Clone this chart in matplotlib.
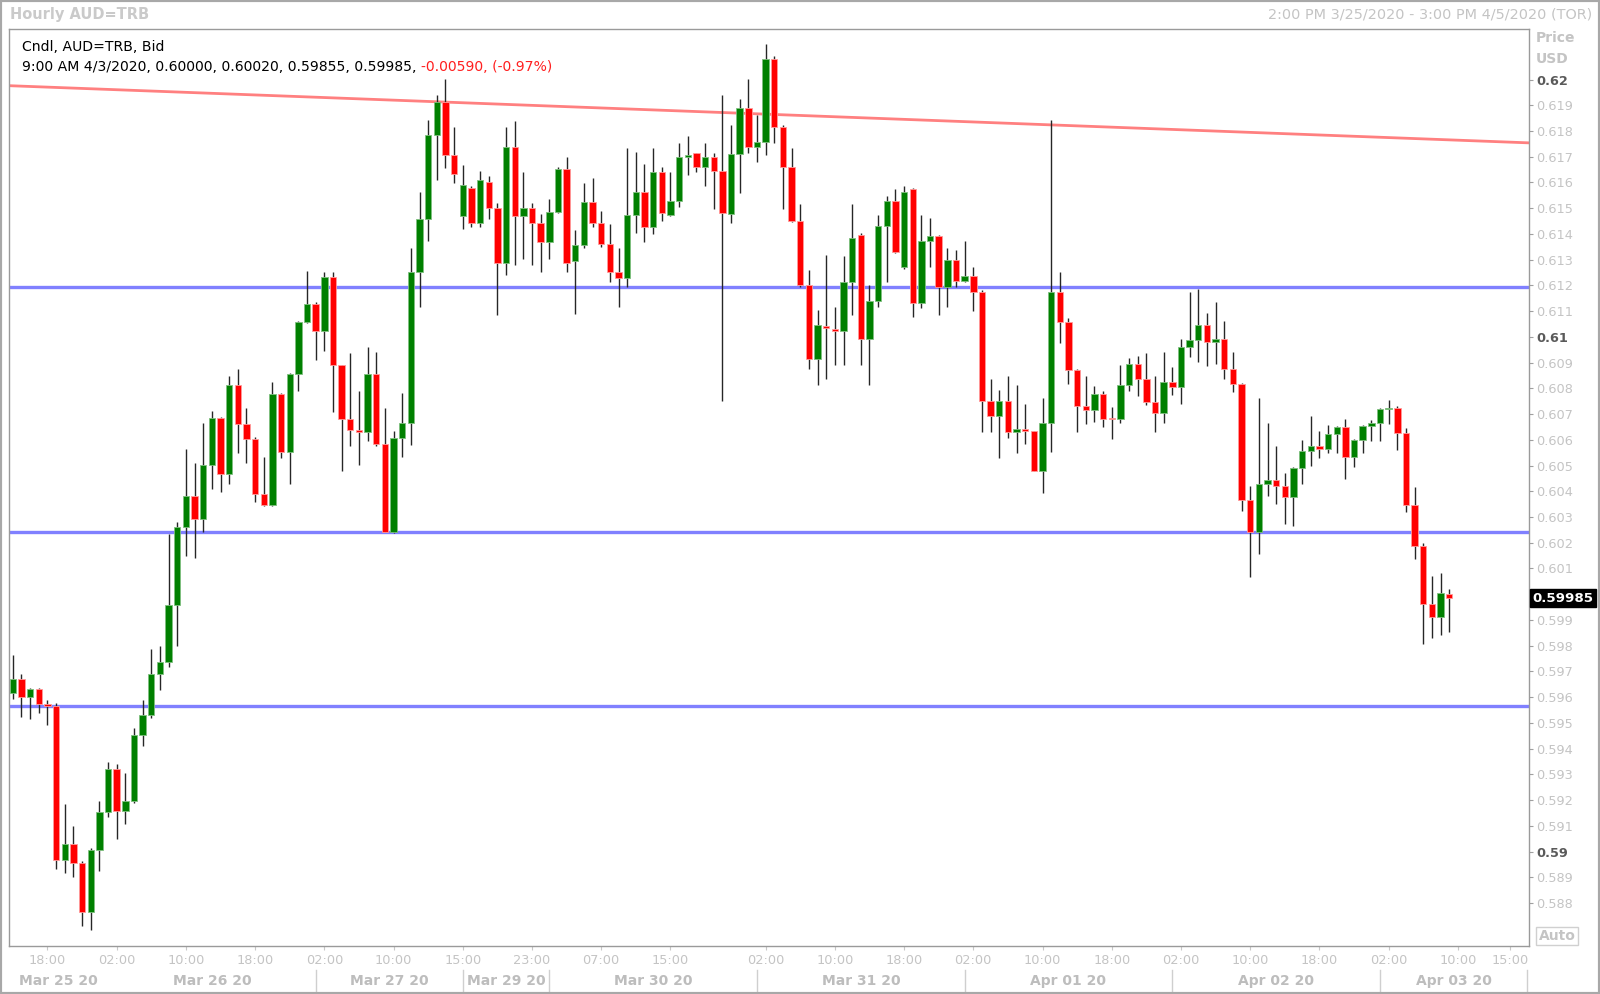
import matplotlib
matplotlib.use("Agg")
import matplotlib.pyplot as plt
from matplotlib.patches import Rectangle
import matplotlib.transforms as mtransforms

# ==================================================
# DATA: hourly AUD=TRB candles
# ==================================================

opens = [
    0.59617, 0.59670, 0.59601, 0.59630, 0.59573, 0.59565, 0.58967, 0.59028, 0.58955, 0.58766,
    0.59007, 0.59154, 0.59319, 0.59158, 0.59195, 0.59453, 0.59530, 0.59690, 0.59735, 0.59960,
    0.60260, 0.60381, 0.60293, 0.60502, 0.60685, 0.60468, 0.60812, 0.60660, 0.60604, 0.60390,
    0.60348, 0.60778, 0.60554, 0.60855, 0.61058, 0.61128, 0.61023, 0.61233, 0.60889, 0.60682,
    0.60638, 0.60630, 0.60855, 0.60582, 0.60243, 0.60607, 0.60666, 0.61251, 0.61458, 0.61784,
    0.61911, 0.61707, 0.61471, 0.61580, 0.61441, 0.61600, 0.61501, 0.61288, 0.61739, 0.61471,
    0.61500, 0.61441, 0.61369, 0.61486, 0.61653, 0.61296, 0.61358, 0.61524, 0.61441, 0.61361,
    0.61254, 0.61227, 0.61473, 0.61562, 0.61428, 0.61642, 0.61475, 0.61528, 0.61698, 0.61713,
    0.61659, 0.61700, 0.61646, 0.61478, 0.61709, 0.61888, 0.61739, 0.61758, 0.62080, 0.61814,
    0.61659, 0.61450, 0.61201, 0.60915, 0.61043, 0.61031, 0.61024, 0.61214, 0.61396, 0.60991,
    0.61139, 0.61432, 0.61529, 0.61270, 0.61574, 0.61130, 0.61374, 0.61392, 0.61195, 0.61299,
    0.61218, 0.61237, 0.61176, 0.60752, 0.60694, 0.60752, 0.60630, 0.60643, 0.60634, 0.60479,
    0.60664, 0.61173, 0.61057, 0.60871, 0.60732, 0.60716, 0.60778, 0.60686, 0.60679, 0.60814,
    0.60894, 0.60836, 0.60748, 0.60705, 0.60826, 0.60804, 0.60962, 0.60987, 0.61048, 0.60979,
    0.60992, 0.60875, 0.60815, 0.60365, 0.60242, 0.60427, 0.60443, 0.60420, 0.60379, 0.60491,
    0.60556, 0.60576, 0.60564, 0.60623, 0.60651, 0.60534, 0.60599, 0.60654, 0.60666, 0.60718,
    0.60725, 0.60625, 0.60345, 0.60188, 0.59962, 0.59912, 0.60000,
]
highs = [
    0.59764, 0.59690, 0.59634, 0.59634, 0.59589, 0.59578, 0.59185, 0.59098, 0.58963, 0.59012,
    0.59195, 0.59349, 0.59340, 0.59306, 0.59479, 0.59589, 0.59786, 0.59798, 0.60235, 0.60282,
    0.60563, 0.60511, 0.60664, 0.60711, 0.60690, 0.60848, 0.60875, 0.60722, 0.60610, 0.60533,
    0.60824, 0.60781, 0.60860, 0.61061, 0.61257, 0.61134, 0.61251, 0.61251, 0.60890, 0.60936,
    0.60789, 0.60959, 0.60940, 0.60722, 0.60634, 0.60781, 0.61346, 0.61562, 0.61843, 0.61940,
    0.62001, 0.61817, 0.61668, 0.61585, 0.61644, 0.61625, 0.61519, 0.61814, 0.61839, 0.61639,
    0.61519, 0.61477, 0.61537, 0.61660, 0.61698, 0.61414, 0.61598, 0.61618, 0.61490, 0.61438,
    0.61344, 0.61733, 0.61717, 0.61670, 0.61733, 0.61659, 0.61642, 0.61754, 0.61780, 0.61715,
    0.61754, 0.61713, 0.61940, 0.61823, 0.61923, 0.62001, 0.61862, 0.62138, 0.62093, 0.61823,
    0.61733, 0.61516, 0.61258, 0.61104, 0.61318, 0.61115, 0.61315, 0.61515, 0.61404, 0.61202,
    0.61473, 0.61547, 0.61573, 0.61586, 0.61577, 0.61473, 0.61463, 0.61395, 0.61344, 0.61337,
    0.61374, 0.61272, 0.61182, 0.60836, 0.60792, 0.60848, 0.60814, 0.60738, 0.60636, 0.60764,
    0.61843, 0.61251, 0.61072, 0.60874, 0.60848, 0.60810, 0.60788, 0.60726, 0.60891, 0.60917,
    0.60926, 0.60936, 0.60848, 0.60940, 0.60882, 0.60992, 0.61174, 0.61186, 0.61094, 0.61136,
    0.61063, 0.60942, 0.60822, 0.60422, 0.60764, 0.60666, 0.60577, 0.60470, 0.60495, 0.60599,
    0.60692, 0.60634, 0.60656, 0.60655, 0.60681, 0.60604, 0.60658, 0.60676, 0.60722, 0.60754,
    0.60732, 0.60647, 0.60415, 0.60198, 0.60071, 0.60083, 0.60020,
]
lows = [
    0.59591, 0.59521, 0.59514, 0.59537, 0.59492, 0.58933, 0.58918, 0.58900, 0.58711, 0.58695,
    0.58925, 0.59135, 0.59050, 0.59106, 0.59190, 0.59411, 0.59518, 0.59628, 0.59718, 0.59798,
    0.60150, 0.60140, 0.60243, 0.60408, 0.60396, 0.60427, 0.60550, 0.60511, 0.60357, 0.60342,
    0.60342, 0.60530, 0.60427, 0.60789, 0.61055, 0.60909, 0.60945, 0.60708, 0.60478, 0.60575,
    0.60504, 0.60596, 0.60576, 0.60243, 0.60237, 0.60534, 0.60578, 0.61115, 0.61374, 0.61610,
    0.61655, 0.61599, 0.61418, 0.61428, 0.61428, 0.61459, 0.61084, 0.61242, 0.61280, 0.61304,
    0.61280, 0.61254, 0.61304, 0.61480, 0.61251, 0.61088, 0.61344, 0.61426, 0.61350, 0.61214,
    0.61115, 0.61195, 0.61402, 0.61370, 0.61399, 0.61451, 0.61470, 0.61503, 0.61628, 0.61639,
    0.61587, 0.61496, 0.60752, 0.61441, 0.61558, 0.61713, 0.61681, 0.61707, 0.61754, 0.61496,
    0.61445, 0.61195, 0.60874, 0.60814, 0.60836, 0.60889, 0.60890, 0.61084, 0.60889, 0.60814,
    0.61117, 0.61213, 0.61325, 0.61263, 0.61078, 0.61112, 0.61272, 0.61084, 0.61115, 0.61195,
    0.61215, 0.61101, 0.60630, 0.60630, 0.60530, 0.60606, 0.60549, 0.60582, 0.60477, 0.60392,
    0.60554, 0.60975, 0.60815, 0.60629, 0.60660, 0.60668, 0.60651, 0.60603, 0.60664, 0.60791,
    0.60769, 0.60735, 0.60629, 0.60664, 0.60774, 0.60738, 0.60923, 0.60903, 0.60888, 0.60893,
    0.60836, 0.60784, 0.60324, 0.60068, 0.60157, 0.60382, 0.60351, 0.60272, 0.60266, 0.60427,
    0.60500, 0.60531, 0.60550, 0.60550, 0.60449, 0.60495, 0.60550, 0.60596, 0.60596, 0.60660,
    0.60560, 0.60318, 0.60135, 0.59805, 0.59828, 0.59841, 0.59855,
]
closes = [
    0.59670, 0.59601, 0.59630, 0.59573, 0.59565, 0.58967, 0.59028, 0.58955, 0.58766, 0.59007,
    0.59154, 0.59319, 0.59158, 0.59195, 0.59453, 0.59530, 0.59690, 0.59735, 0.59960, 0.60260,
    0.60381, 0.60293, 0.60502, 0.60685, 0.60468, 0.60812, 0.60660, 0.60604, 0.60390, 0.60348,
    0.60778, 0.60554, 0.60855, 0.61058, 0.61128, 0.61023, 0.61233, 0.60889, 0.60682, 0.60638,
    0.60630, 0.60855, 0.60582, 0.60243, 0.60607, 0.60666, 0.61251, 0.61458, 0.61784, 0.61911,
    0.61707, 0.61632, 0.61590, 0.61441, 0.61610, 0.61501, 0.61288, 0.61739, 0.61471, 0.61500,
    0.61441, 0.61369, 0.61486, 0.61653, 0.61288, 0.61358, 0.61524, 0.61441, 0.61361, 0.61254,
    0.61227, 0.61473, 0.61562, 0.61428, 0.61642, 0.61482, 0.61528, 0.61698, 0.61703, 0.61659,
    0.61700, 0.61646, 0.61482, 0.61709, 0.61888, 0.61739, 0.61758, 0.62080, 0.61814, 0.61659,
    0.61450, 0.61201, 0.60915, 0.61048, 0.61035, 0.61024, 0.61214, 0.61383, 0.60991, 0.61139,
    0.61432, 0.61529, 0.61328, 0.61562, 0.61130, 0.61374, 0.61392, 0.61195, 0.61299, 0.61218,
    0.61237, 0.61176, 0.60752, 0.60694, 0.60752, 0.60630, 0.60643, 0.60634, 0.60479, 0.60664,
    0.61173, 0.61057, 0.60871, 0.60732, 0.60716, 0.60778, 0.60681, 0.60679, 0.60814, 0.60894,
    0.60836, 0.60748, 0.60705, 0.60826, 0.60804, 0.60962, 0.60987, 0.61048, 0.60979, 0.60992,
    0.60875, 0.60815, 0.60365, 0.60242, 0.60427, 0.60443, 0.60420, 0.60379, 0.60491, 0.60556,
    0.60576, 0.60564, 0.60623, 0.60651, 0.60534, 0.60599, 0.60654, 0.60666, 0.60718, 0.60725,
    0.60625, 0.60345, 0.60188, 0.59962, 0.59912, 0.60003, 0.59985,
]

# x-axis labels (positions are candle numbers)
time_tick_pos = [4, 12, 20, 28, 36, 44, 52, 60, 68, 76, 87, 95, 103, 111, 119, 127,
                 135, 143, 151, 159, 167, 173]
time_tick_labels = ["18:00", "02:00", "10:00", "18:00", "02:00", "10:00", "15:00", "23:00",
                    "07:00", "15:00", "02:00", "10:00", "18:00", "02:00", "10:00", "18:00",
                    "02:00", "10:00", "18:00", "02:00", "10:00", "15:00"]
day_labels = ["Mar 25 20", "Mar 26 20", "Mar 27 20", "Mar 29 20", "Mar 30 20",
              "Mar 31 20", "Apr 01 20", "Apr 02 20", "Apr 03 20"]
day_label_pos = [5.3, 23, 43.5, 57, 74, 98, 122, 146, 166.5]
day_breaks = [35, 52, 62, 86, 110, 134, 158, 175]

# drawn lines
support_levels = [0.61192, 0.60240, 0.59565]
trend_x = [-0.3, 175.2]
trend_y = [0.61976, 0.61754]

last_price = closes[-1]

# ==================================================
# FIGURE
# ==================================================

W, H = 1600, 994
fig = plt.figure(figsize=(W / 100, H / 100), dpi=100)
fig.patch.set_facecolor("white")

left_px, right_px, top_px, bot_px = 9.2, 1529, 28.6, 946
ax = fig.add_axes([left_px / W, 1 - bot_px / H,
                   (right_px - left_px) / W, (bot_px - top_px) / H])

GREEN = "#008000"
RED = "#ff0000"
LIGHT = "#c4c4c4"

# blue horizontal levels and red trend line
for lvl in support_levels:
    ax.axhline(lvl, color="#8080ff", lw=2.4, zorder=1)
ax.plot(trend_x, trend_y, color="#ff8080", lw=2.0, zorder=1)

# candles
xs = list(range(len(closes)))
colors = [GREEN if c >= o else RED for o, c in zip(opens, closes)]
edges = ["#7fbf7f" if c >= o else "#ff9a9a" for o, c in zip(opens, closes)]
bottoms = [min(o, c) for o, c in zip(opens, closes)]
heights = [max(abs(c - o), 0.00007) for o, c in zip(opens, closes)]

ax.vlines(xs, lows, highs, color="#262626", lw=1.0, zorder=2)
ax.bar(xs, heights, bottom=bottoms, width=0.74, color=colors,
       edgecolor=edges, linewidth=0.6, zorder=3)

ax.set_xlim(-0.42, 175.22)
ax.set_ylim(0.58633, 0.62198)

for sp in ax.spines.values():
    sp.set_color("#9a9a9a")
    sp.set_linewidth(1.0)

# right price axis (0.600 sits under the current-price box)
ax.yaxis.tick_right()
yt = [round(0.588 + 0.001 * i, 3) for i in range(33)]
ax.set_yticks(yt)
ylabels = []
for v in yt:
    s = f"{v:.3f}"
    if s.endswith("0"):
        s = s.rstrip("0")
    if abs(v - 0.6) < 1e-9:
        s = ""
    ylabels.append(s)
ax.set_yticklabels(ylabels)
ax.tick_params(axis="y", direction="out", length=3, width=0.8, color="#a0a0a0",
               pad=2, labelsize=9.3, labelcolor=LIGHT)
for v, lab in zip(yt, ax.get_yticklabels()):
    if abs(v * 100 - round(v * 100)) < 1e-6:
        lab.set_fontweight("bold")
        lab.set_color("#5a5a5a")

# bottom time axis
ax.set_xticks(time_tick_pos)
ax.set_xticklabels(time_tick_labels)
ax.tick_params(axis="x", direction="out", length=3, width=0.8, color="#c8c8c8",
               pad=3, labelsize=9.3, labelcolor=LIGHT)

xt = ax.get_xaxis_transform()
for pos, lab in zip(day_label_pos, day_labels):
    ax.text(pos, -0.0382, lab, transform=xt, ha="center", va="center",
            fontsize=10, fontweight="bold", color="#bdbdbd", clip_on=False)
for b in day_breaks:
    ax.plot([b, b], [-0.026, -0.049], transform=xt, color="#cfcfcf", lw=1.0,
            clip_on=False)

# current price box
yt_tr = mtransforms.blended_transform_factory(ax.transAxes, ax.transData)
ax.text(1.0025, last_price, f"{last_price:.5f}", transform=yt_tr, ha="left",
        va="center", fontsize=9.6, fontweight="bold", color="white", clip_on=False,
        bbox=dict(boxstyle="square,pad=0.18", facecolor="black", edgecolor="black"))

# titles and labels around the chart
fig.text(10 / W, 1 - 15 / H, "Hourly AUD=TRB", ha="left", va="center",
         fontsize=10.5, fontweight="bold", color="#cacaca")
fig.text(1592 / W, 1 - 15 / H, "2:00 PM 3/25/2020 - 3:00 PM 4/5/2020 (TOR)",
         ha="right", va="center", fontsize=10.4, color="#c4c4c4")
fig.text(1536 / W, 1 - 38 / H, "Price", ha="left", va="center",
         fontsize=10, fontweight="bold", color="#c4c4c4")
fig.text(1536 / W, 1 - 59 / H, "USD", ha="left", va="center",
         fontsize=10, fontweight="bold", color="#c4c4c4")
fig.text(1557 / W, 1 - 936 / H, "Auto", ha="center", va="center",
         fontsize=10, fontweight="bold", color="#c4c4c4",
         bbox=dict(boxstyle="square,pad=0.15", facecolor="white", edgecolor="#d0d0d0"))

# legend header inside the plot
fig.text(22 / W, 1 - 47 / H, "Cndl, AUD=TRB, Bid", ha="left", va="center",
         fontsize=10.1, color="black")
t1 = fig.text(22 / W, 1 - 67.4 / H,
              "9:00 AM 4/3/2020, 0.60000, 0.60020, 0.59855, 0.59985, ",
              ha="left", va="center", fontsize=10.1, color="black")
fig.canvas.draw()
bb = t1.get_window_extent()
fig.text(bb.x1 / W, 1 - 67.4 / H, "-0.00590, (-0.97%)", ha="left", va="center",
         fontsize=10.1, color="#ff2020")

# outer frame
fig.add_artist(Rectangle((0, 0), 1, 1, transform=fig.transFigure, fill=False,
                         edgecolor="#a8a8a8", lw=3))

plt.savefig("out.png", dpi=100)
